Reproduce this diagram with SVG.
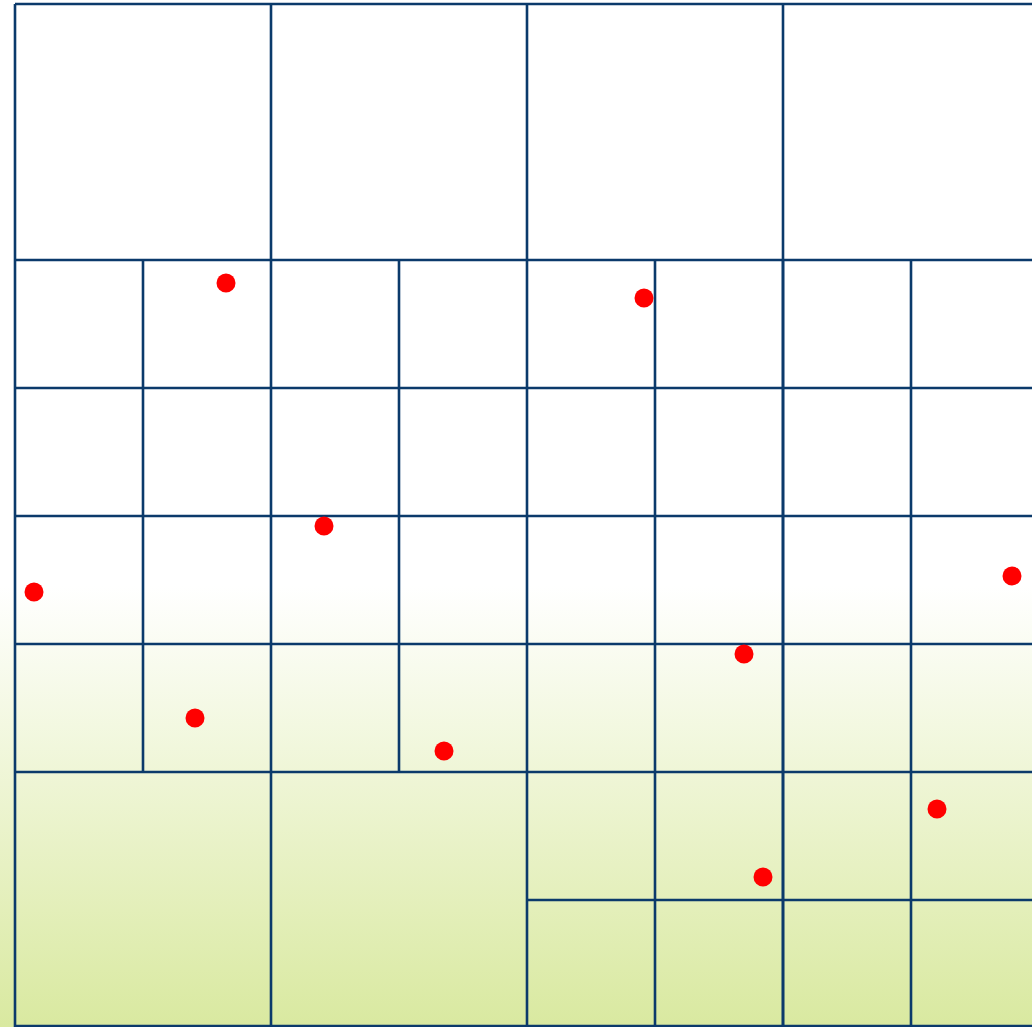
<svg xmlns="http://www.w3.org/2000/svg" width="1032" height="1027" viewBox="0 0 1032 1027">
<defs>
<linearGradient id="bg" x1="0" y1="0" x2="0" y2="1027" gradientUnits="userSpaceOnUse">
<stop offset="0" stop-color="#ffffff"/>
<stop offset="0.57" stop-color="#ffffff"/>
<stop offset="1" stop-color="#d9e9a0"/>
</linearGradient>
<style>
.g{stroke:#0b3a6b;stroke-width:2.6;fill:none}
.p{fill:#ff0000}
</style>
</defs>
<rect x="0" y="0" width="1032" height="1027" fill="url(#bg)"/>
<g id="grid" class="g">
<path d="M15,4H1032M15,260H1032M15,388H1032M15,516H1032M15,644H1032M15,772H1032M527,900H1032M15,1026H1032"/>
<path d="M15,4V1027M271,4V1027M527,4V1027M783,4V1027"/>
<path d="M143,260V772M399,260V772M655,260V1027M911,260V1027M783,260V1027"/>
</g>
<g id="points">
<circle class="p" cx="226" cy="283" r="9.5"/>
<circle class="p" cx="644" cy="298" r="9.5"/>
<circle class="p" cx="324" cy="526" r="9.5"/>
<circle class="p" cx="34" cy="592" r="9.5"/>
<circle class="p" cx="1012" cy="576" r="9.5"/>
<circle class="p" cx="744" cy="654" r="9.5"/>
<circle class="p" cx="195" cy="718" r="9.5"/>
<circle class="p" cx="444" cy="751" r="9.5"/>
<circle class="p" cx="937" cy="809" r="9.5"/>
<circle class="p" cx="763" cy="877" r="9.5"/>
</g>
</svg>
